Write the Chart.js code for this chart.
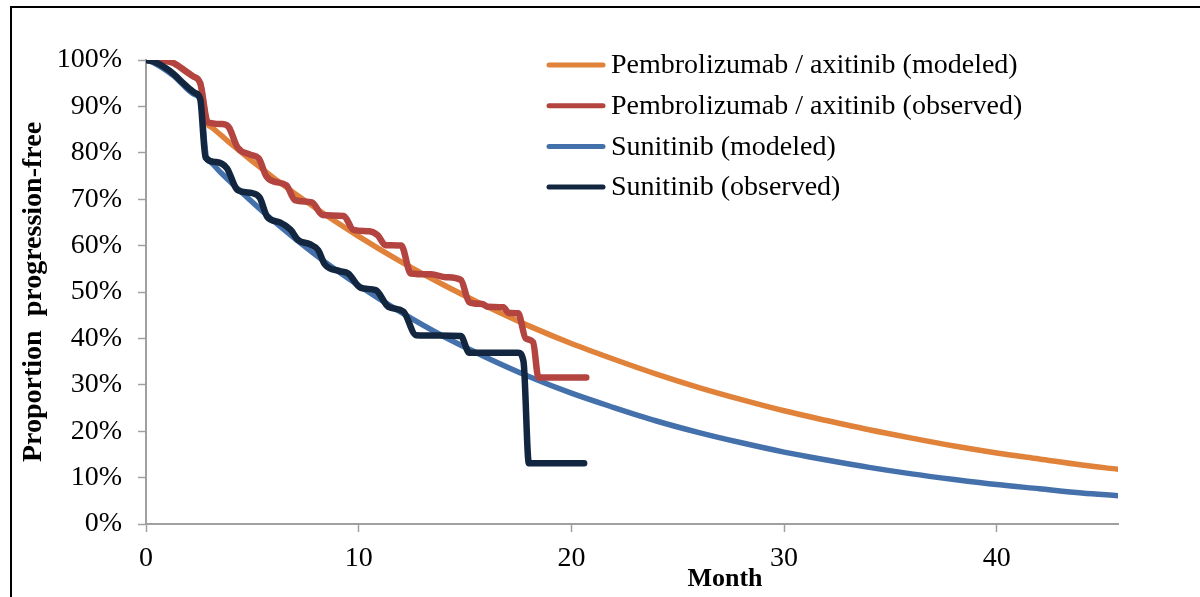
<!DOCTYPE html>
<html>
<head>
<meta charset="utf-8">
<script src="https://cdn.jsdelivr.net/npm/chart.js@4"></script>
<style>
  body { margin: 0; background: #fff; }
  #frame { position: absolute; left: 10px; top: 6px; width: 1200px; height: 600px;
           border-top: 2px solid #000; border-left: 2px solid #000; }
  #pfs { position: absolute; left: 0; top: 0; }
</style>
</head>
<body>
<div id="frame"></div>
<canvas id="pfs" width="1200" height="597"></canvas>
<script>
// Pembrolizumab / axitinib
const pembroModMonths = [0, 1.27, 2.2, 2.55, 2.9, 3.05, 3.5, 4, 6, 8, 10, 12, 14, 16, 18, 20, 22, 24, 26, 28, 30, 32, 34, 36, 38, 40, 42, 44, 45.7];
const pembroModeled   = [100, 99.4, 96.5, 95, 86.2, 85.6, 83.9, 81.9, 74.6, 68.0, 62.0, 56.5, 51.5, 46.9, 42.7, 38.9, 35.5, 32.3, 29.4, 26.8, 24.4, 22.3, 20.3, 18.5, 16.8, 15.3, 14.0, 12.7, 11.8];

const pembroObsMonths = [0, 0.6, 1.27, 1.8, 2.2, 2.55, 2.9, 3.6, 3.9, 4.3, 4.9, 5.3, 5.65, 6.0, 6.6, 7.0, 7.8, 8.3, 9.3, 9.75, 10.5, 10.9, 11.25, 12.0, 12.45, 13.4, 14.1, 14.8, 15.2, 15.8, 16.1, 16.8, 17.05, 17.5, 17.85, 18.2, 18.45, 20.7];
const pembroObserved  = [100, 100, 99.4, 97.8, 96.5, 95, 86.6, 86.2, 85.5, 81.2, 79.6, 78.8, 75, 73.8, 73, 69.8, 69.3, 66.6, 66.4, 63.4, 63.1, 62.2, 60.1, 60.0, 54.0, 53.8, 53.2, 52.6, 47.8, 47.4, 46.8, 46.7, 45.5, 45.4, 40, 39.2, 31.6, 31.6];

// Sunitinib
const sunModMonths = [0, 0.4, 1.3, 2.3, 2.55, 2.85, 3.0, 3.5, 4, 6, 8, 10, 12, 14, 16, 18, 20, 22, 24, 26, 28, 30, 32, 34, 36, 38, 40, 42, 44, 45.7];
const sunModeled   = [100, 99.3, 96.6, 92.5, 91.6, 78.8, 78.1, 75.8, 73.6, 65.3, 57.9, 51.4, 45.6, 40.4, 35.9, 31.8, 28.2, 25.1, 22.2, 19.7, 17.5, 15.5, 13.8, 12.2, 10.8, 9.6, 8.5, 7.6, 6.7, 6.1];

const sunObsMonths = [0, 0.4, 1.3, 1.75, 2.3, 2.55, 2.8, 3.3, 3.8, 4.3, 5.0, 5.35, 5.7, 6.3, 6.8, 7.15, 7.7, 8.1, 8.4, 9.1, 9.5, 10.1, 10.8, 11.4, 12.1, 12.7, 14.8, 15.2, 17.5, 17.75, 18.0, 20.6];
const sunObserved  = [100, 99.6, 97, 95, 92.9, 91.6, 79, 78, 76.7, 72, 71.3, 70.3, 66.2, 65, 63.4, 61.2, 60.3, 59, 56, 54.5, 54.0, 50.9, 50.4, 46.8, 45.8, 40.7, 40.5, 36.9, 36.9, 35.0, 13.1, 13.1];

const seriesNames = [
  'Pembrolizumab / axitinib (modeled)',
  'Pembrolizumab / axitinib (observed)',
  'Sunitinib (modeled)',
  'Sunitinib (observed)'
];
const seriesColors = ['#E0823A', '#B3443F', '#4471AB', '#12263F'];

const yTicks = [0, 10, 20, 30, 40, 50, 60, 70, 80, 90, 100];
const xTicks = [0, 10, 20, 30, 40];

const FONT = '"Liberation Serif", "Times New Roman", serif';
const GREY = '#A0A0A0';

function toPoints(xs, ys) {
  return xs.map((x, i) => ({ x: x, y: ys[i] }));
}

function series(i, xs, ys, width, order) {
  return {
    label: seriesNames[i],
    data: toPoints(xs, ys),
    borderColor: seriesColors[i],
    backgroundColor: seriesColors[i],
    borderWidth: width,
    borderCapStyle: 'round',
    borderJoinStyle: 'round',
    pointRadius: 0,
    cubicInterpolationMode: 'monotone',
    order: order
  };
}

// legend stacked in the upper right of the plot
const legendPlugin = {
  id: 'cornerLegend',
  afterDraw(chart) {
    const ctx = chart.ctx;
    ctx.save();
    ctx.font = '28px ' + FONT;
    ctx.textBaseline = 'middle';
    chart.data.datasets.forEach((ds, i) => {
      const y = 65 + i * 40.7;
      ctx.strokeStyle = ds.borderColor;
      ctx.lineWidth = 5;
      ctx.lineCap = 'round';
      ctx.beginPath();
      ctx.moveTo(549, y);
      ctx.lineTo(603, y);
      ctx.stroke();
      ctx.fillStyle = '#000';
      ctx.fillText(ds.label, 611, y + 1);
    });
    ctx.restore();
  }
};

// x axis title sits off-centre, under the 30 tick
const monthLabel = {
  id: 'monthLabel',
  afterDraw(chart) {
    const ctx = chart.ctx;
    ctx.save();
    ctx.font = 'bold 26px ' + FONT;
    ctx.fillStyle = '#000';
    ctx.textAlign = 'center';
    ctx.textBaseline = 'middle';
    ctx.fillText('Month', 725, 579);
    ctx.restore();
  }
};

new Chart(document.getElementById('pfs'), {
  type: 'line',
  data: {
    datasets: [
      series(0, pembroModMonths, pembroModeled, 5.5, 3),
      series(1, pembroObsMonths, pembroObserved, 6.5, 1),
      series(2, sunModMonths, sunModeled, 5.5, 2),
      series(3, sunObsMonths, sunObserved, 6.5, 0)
    ]
  },
  options: {
    responsive: false,
    animation: false,
    layout: { padding: { left: 10, top: 60, right: 82, bottom: 23 } },
    plugins: {
      legend: { display: false },
      tooltip: { enabled: false }
    },
    scales: {
      x: {
        type: 'linear',
        min: 0,
        max: 45.7,
        afterFit: s => { s.height = 50; },
        afterBuildTicks: s => { s.ticks = xTicks.map(v => ({ value: v })); },
        border: { display: true, color: GREY, width: 2 },
        grid: { drawOnChartArea: false, drawTicks: true, tickLength: 8, tickColor: GREY, tickWidth: 1.5 },
        ticks: { color: '#000', font: { family: FONT, size: 28 }, padding: 10, maxRotation: 0 }
      },
      y: {
        min: 0,
        max: 100,
        afterFit: s => { s.width = 136; },
        afterBuildTicks: s => { s.ticks = yTicks.map(v => ({ value: v })); },
        border: { display: true, color: GREY, width: 2 },
        grid: { drawOnChartArea: false, drawTicks: true, tickLength: 8, tickColor: GREY, tickWidth: 1.5 },
        ticks: {
          color: '#000',
          font: { family: FONT, size: 28 },
          padding: 16,
          callback: v => v + '%'
        },
        title: {
          display: true,
          text: 'Proportion  progression-free',
          color: '#000',
          font: { family: FONT, size: 28, weight: 'bold' },
          padding: { top: 7, bottom: 0 }
        }
      }
    }
  },
  plugins: [legendPlugin, monthLabel]
});
</script>
</body>
</html>
